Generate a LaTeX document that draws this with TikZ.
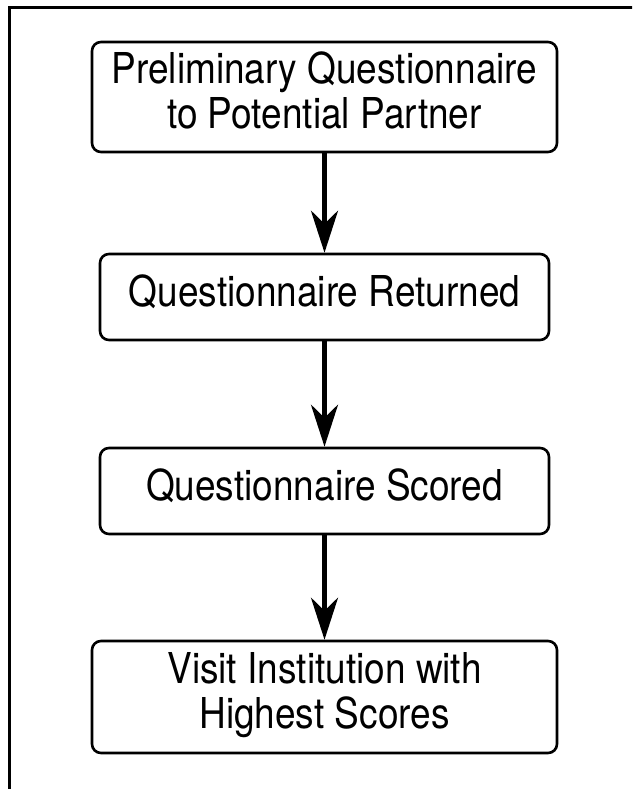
\documentclass[tikz,border=0pt]{standalone}
\usepackage{fontspec}
\setmainfont{TeX Gyre Heros}
\usetikzlibrary{arrows.meta}
\newcommand{\tallline}[1]{\scalebox{1}[1.15]{\begin{tabular}{@{}c@{}}#1\end{tabular}}}
\begin{document}
\begin{tikzpicture}[x=1pt,y=-1pt,
  stepbox/.style={draw=black,line width=2.6pt,rounded corners=9pt,align=center,
    inner sep=0pt,font=\fontsize{37}{39}\selectfont},
  flow/.style={line width=4.2pt,-{Stealth[length=42pt,width=27pt,inset=13pt]}}]
\useasboundingbox (0,0) rectangle (632,789);
\clip (0,0) rectangle (632,789);
\fill[white] (0,0) rectangle (632,789);
\draw[line width=3pt] (9,800) -- (9,8) -- (645,8);
\node[stepbox,minimum width=465pt,minimum height=110pt] (b1) at (324.5,97)
  {\tallline{Preliminary Questionnaire\\to Potential Partner}};
\node[stepbox,minimum width=449pt,minimum height=86pt] (b2) at (324.5,297)
  {\tallline{Questionnaire Returned}};
\node[stepbox,minimum width=449pt,minimum height=86pt] (b3) at (324.5,491)
  {\tallline{Questionnaire Scored}};
\node[stepbox,minimum width=465pt,minimum height=112pt] (b4) at (324.5,697)
  {\tallline{Visit Institution with\\Highest Scores}};
\draw[flow] (b1.south) -- (b2.north);
\draw[flow] (b2.south) -- (b3.north);
\draw[flow] (b3.south) -- (b4.north);
\end{tikzpicture}
\end{document}
